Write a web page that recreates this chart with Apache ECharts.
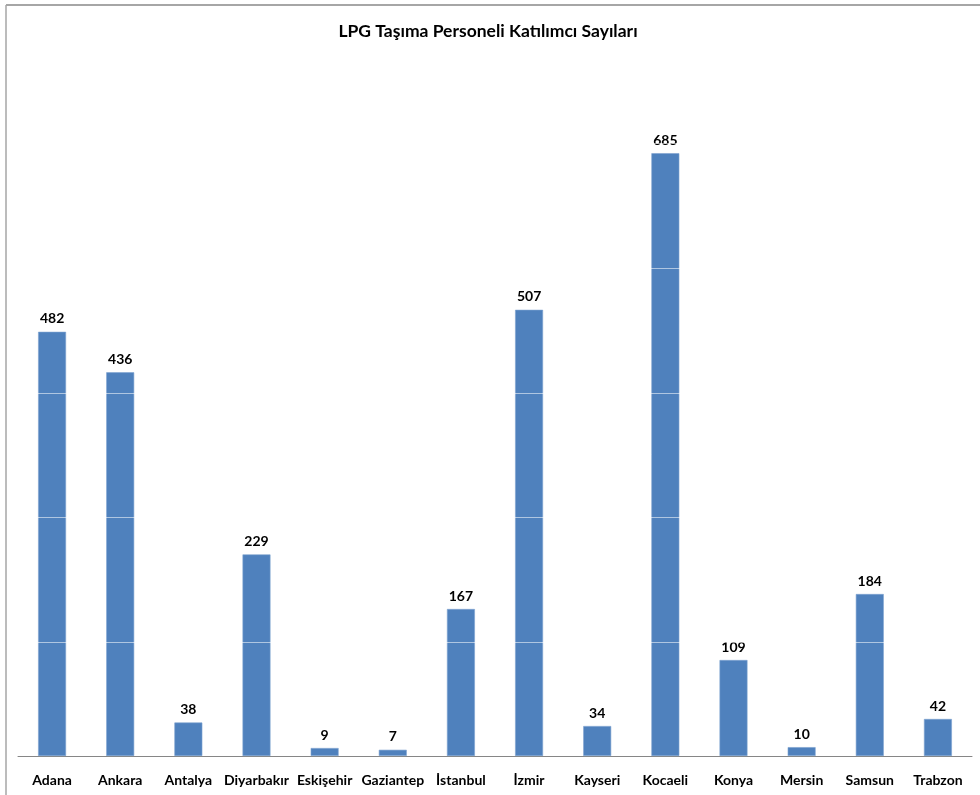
<!DOCTYPE html>
<html>
<head>
<meta charset="utf-8">
<script src="https://cdn.jsdelivr.net/npm/echarts@6/dist/echarts.min.js"></script>
<style>
    html, body {margin: 0; padding: 0; background: #fff;}
    #chart {width: 980px; height: 795px;}
</style>
</head>
<body>
<div id="chart"></div>
<script>
    var cities = ['Adana', 'Ankara', 'Antalya', 'Diyarbakır', 'Eskişehir', 'Gaziantep', 'İstanbul',
        'İzmir', 'Kayseri', 'Kocaeli', 'Konya', 'Mersin', 'Samsun', 'Trabzon'];
    var counts = [482, 436, 38, 229, 9, 7, 167, 507, 34, 685, 109, 10, 184, 42];

    // excel style grid lines, they only show up across the bars
    var gridMin  = -12.1;
    var gridStep = 141.6;
    var gridMax  = gridMin + gridStep * 5;

    var font = 'Lato, "Open Sans", sans-serif';

    var myChart = echarts.init(document.getElementById('chart'));
    var option  = {
        animation: false,
        title    : {
            text     : 'LPG Taşıma Personeli Katılımcı Sayıları',
            left     : 483,
            textAlign: 'center',
            top      : 17,
            textStyle: {fontFamily: font, fontSize: 17.5, fontWeight: 'bold', color: '#000'}
        },
        graphic  : [
            {type: 'line', shape: {x1: 6, y1: 5, x2: 980, y2: 5}, style: {stroke: '#a6a6a6', lineWidth: 2}},
            {type: 'line', shape: {x1: 6, y1: 5, x2: 6, y2: 795}, style: {stroke: '#a6a6a6', lineWidth: 1.5}}
        ],
        grid     : {left: 18, right: 8, top: 143.6, bottom: 28.4},
        xAxis    : {
            type     : 'category',
            data     : cities,
            axisLine : {onZero: true, lineStyle: {color: '#868686', width: 1}},
            axisTick : {show: false},
            axisLabel: {interval: 0, margin: 7, fontFamily: font, fontSize: 14, fontWeight: 'bold', color: '#000'}
        },
        yAxis    : {
            type     : 'value',
            min      : gridMin,
            max      : gridMax,
            interval : gridStep,
            z        : 3,
            axisLine : {show: false},
            axisTick : {show: false},
            axisLabel: {show: false},
            splitLine: {lineStyle: {color: 'rgba(255,255,255,0.55)', width: 1}}
        },
        series   : [
            {
                type           : 'bar',
                data           : counts,
                barCategoryGap : '59%',
                itemStyle      : {color: '#4f81bd', borderColor: '#7ea2d0', borderWidth: 0.6},
                label          : {
                    show      : true,
                    position  : 'top',
                    distance  : 6,
                    fontFamily: font,
                    fontSize  : 14,
                    fontWeight: 'bold',
                    color     : '#000'
                }
            }
        ]
    };

    myChart.setOption(option);
</script>
</body>
</html>
